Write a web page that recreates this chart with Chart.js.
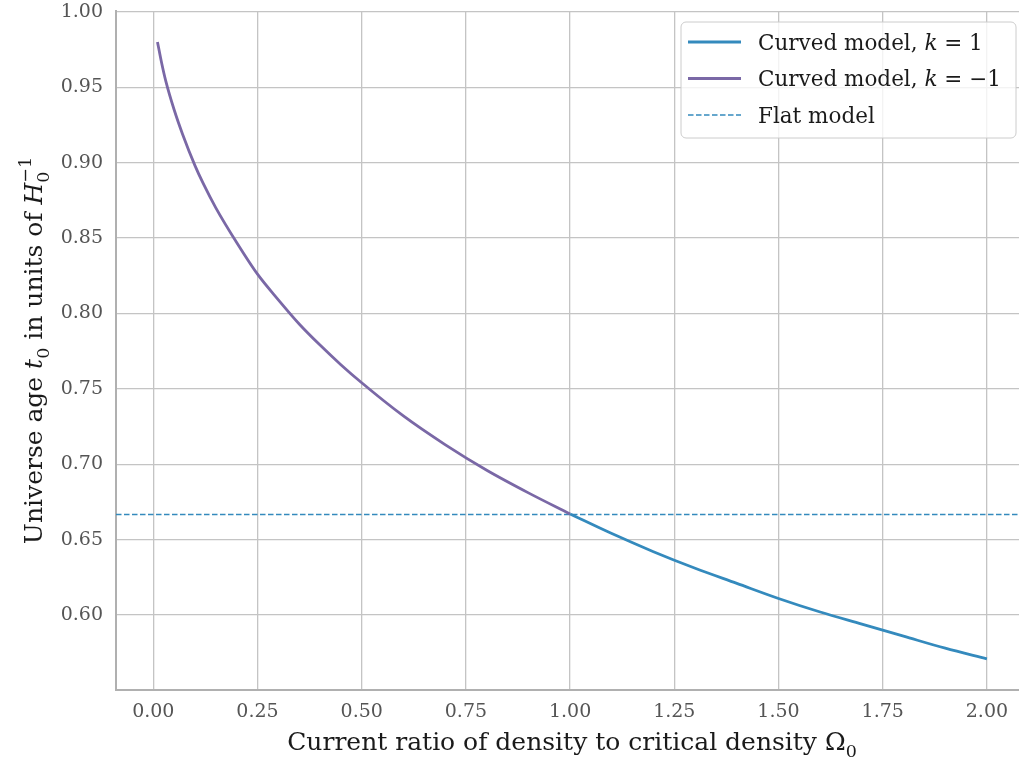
<!DOCTYPE html>
<html>
<head>
<meta charset="utf-8">
<script src="https://cdn.jsdelivr.net/npm/chart.js@4.4.0/dist/chart.umd.min.js"></script>
<style>
html, body { margin: 0; padding: 0; background: #fff; overflow: hidden; }
</style>
</head>
<body>
<canvas id="chart" width="1019" height="763"></canvas>
<script>
// --- DONNÉES ---
const omegaOpen = [0.01, 0.02, 0.03, 0.05, 0.07, 0.10, 0.12, 0.15, 0.20, 0.25, 0.30, 0.35, 0.40, 0.45, 0.50, 0.60, 0.70, 0.80, 0.90, 1.00];
const ageOpen   = [0.980, 0.966, 0.954, 0.935, 0.919, 0.898, 0.886, 0.870, 0.847, 0.826, 0.809, 0.793, 0.779, 0.766, 0.754, 0.732, 0.713, 0.696, 0.681, 0.667];
const omegaClosed = [1.00, 1.10, 1.20, 1.30, 1.40, 1.50, 1.60, 1.70, 1.80, 1.90, 2.00];
const ageClosed   = [0.667, 0.654, 0.642, 0.631, 0.621, 0.611, 0.602, 0.594, 0.586, 0.578, 0.571];
const flatOmega = [-0.0895, 2.077];
const flatAge   = [0.6667, 0.6667];
const xTicks = [0.00, 0.25, 0.50, 0.75, 1.00, 1.25, 1.50, 1.75, 2.00];
const yTicks = [0.60, 0.65, 0.70, 0.75, 0.80, 0.85, 0.90, 0.95, 1.00];

const BLUE = '#348ABD';
const PURPLE = '#7A68A6';
const FONT = '"DejaVu Serif", serif';

// petits bouts de texte "math" : italique, indice, exposant
const xTitle = [
    { t: 'Current ratio of density to critical density Ω' },
    { t: '0', sc: 0.7, dy: 0.28 }
];
const yTitle = [
    { t: 'Universe age ' },
    { t: 't', it: true },
    { t: '0', sc: 0.7, dy: 0.28 },
    { t: ' in units of ' },
    { t: 'H', it: true },
    { t: '0', sc: 0.7, dy: 0.28 },
    { t: '−1', sc: 0.7, dy: -0.45, stack: true }
];
const legendRows = [
    { color: BLUE, width: 3, dash: [], segs: [{ t: 'Curved model, ' }, { t: 'k', it: true }, { t: ' = 1' }] },
    { color: PURPLE, width: 3, dash: [], segs: [{ t: 'Curved model, ' }, { t: 'k', it: true }, { t: ' = −1' }] },
    { color: BLUE, width: 1.5, dash: [5.5, 2.5], segs: [{ t: 'Flat model' }] }
];

function fontOf(size, it) {
    return (it ? 'italic ' : '') + size + 'px ' + FONT;
}

function layoutRich(ctx, segs, size) {
    let x = 0, prevStart = 0, prevEnd = 0;
    const items = [];
    for (const s of segs) {
        const sz = size * (s.sc || 1);
        ctx.font = fontOf(sz, s.it);
        const w = ctx.measureText(s.t).width;
        const start = s.stack ? prevStart : x;
        items.push({ s, sz, x: start });
        if (s.stack) {
            x = Math.max(prevEnd, start + w);
        } else {
            prevStart = start; prevEnd = start + w; x = start + w;
        }
    }
    return { items, width: x };
}

function drawRich(ctx, segs, x, y, size, align) {
    const lay = layoutRich(ctx, segs, size);
    const x0 = align === 'center' ? x - lay.width / 2 : x;
    ctx.textBaseline = 'alphabetic';
    ctx.textAlign = 'left';
    for (const it of lay.items) {
        ctx.font = fontOf(it.sz, it.s.it);
        ctx.fillText(it.s.t, x0 + it.x, y + (it.s.dy || 0) * size);
    }
}

// titres d'axes + légende dessinés à la main
const decorPlugin = {
    id: 'decor',
    afterDraw(chart) {
        const ctx = chart.ctx;
        const area = chart.chartArea;
        ctx.save();
        ctx.fillStyle = '#1a1a1a';
        drawRich(ctx, xTitle, 572, 750, 25, 'center');

        ctx.save();
        ctx.translate(42, (area.top + area.bottom) / 2);
        ctx.rotate(-Math.PI / 2);
        drawRich(ctx, yTitle, 0, 0, 25, 'center');
        ctx.restore();

        // légende
        const bx = 681, by = 22, bw = 335, bh = 116;
        ctx.beginPath();
        ctx.roundRect(bx, by, bw, bh, 5);
        ctx.fillStyle = 'rgba(255,255,255,0.8)';
        ctx.fill();
        ctx.lineWidth = 1;
        ctx.strokeStyle = '#cccccc';
        ctx.stroke();

        legendRows.forEach((r, i) => {
            const ry = 42 + i * 36.5;
            ctx.beginPath();
            ctx.setLineDash(r.dash);
            ctx.lineWidth = r.width;
            ctx.strokeStyle = r.color;
            ctx.moveTo(688, ry);
            ctx.lineTo(741, ry);
            ctx.stroke();
            ctx.setLineDash([]);
            ctx.fillStyle = '#1a1a1a';
            drawRich(ctx, r.segs, 758, ry + 7.5, 21.5, 'left');
        });
        ctx.restore();
    }
};

const ctx = document.getElementById('chart').getContext('2d');
new Chart(ctx, {
    type: 'line',
    data: {
        datasets: [
            {
                label: 'Curved model, k = 1',
                data: omegaClosed.map((x, i) => ({ x, y: ageClosed[i] })),
                borderColor: BLUE,
                borderWidth: 2.8,
                pointRadius: 0,
                cubicInterpolationMode: 'monotone',
                fill: false
            },
            {
                label: 'Curved model, k = −1',
                data: omegaOpen.map((x, i) => ({ x, y: ageOpen[i] })),
                borderColor: PURPLE,
                borderWidth: 2.8,
                pointRadius: 0,
                cubicInterpolationMode: 'monotone',
                fill: false
            },
            {
                label: 'Flat model',
                data: flatOmega.map((x, i) => ({ x, y: flatAge[i] })),
                borderColor: BLUE,
                borderWidth: 1.5,
                borderDash: [5.5, 2.5],
                pointRadius: 0,
                fill: false
            }
        ]
    },
    options: {
        responsive: false,
        animation: false,
        layout: { padding: { top: 11, right: 0, left: 0, bottom: 0 } },
        plugins: {
            legend: { display: false },
            tooltip: { enabled: false }
        },
        scales: {
            x: {
                type: 'linear',
                min: -0.0895,
                max: 2.077,
                afterBuildTicks: s => { s.ticks = xTicks.map(v => ({ value: v })); },
                afterFit: s => { s.height = 73; s.paddingLeft = 0; s.paddingRight = 0; },
                ticks: {
                    padding: 11,
                    color: '#555555',
                    font: { family: FONT, size: 19 },
                    callback: v => Number(v).toFixed(2)
                },
                grid: { color: '#c4c4c4', lineWidth: 1.3, drawTicks: false },
                border: { color: '#b0b0b0', width: 2 }
            },
            y: {
                type: 'linear',
                min: 0.5503,
                max: 1.0005,
                afterBuildTicks: s => { s.ticks = yTicks.map(v => ({ value: v })); },
                afterFit: s => { s.width = 116; s.paddingTop = 0; s.paddingBottom = 0; },
                ticks: {
                    padding: 13,
                    color: '#555555',
                    font: { family: FONT, size: 19 },
                    callback: v => Number(v).toFixed(2)
                },
                grid: { color: '#c4c4c4', lineWidth: 1.3, drawTicks: false },
                border: { color: '#b0b0b0', width: 2 }
            }
        }
    },
    plugins: [decorPlugin]
});
</script>
</body>
</html>
